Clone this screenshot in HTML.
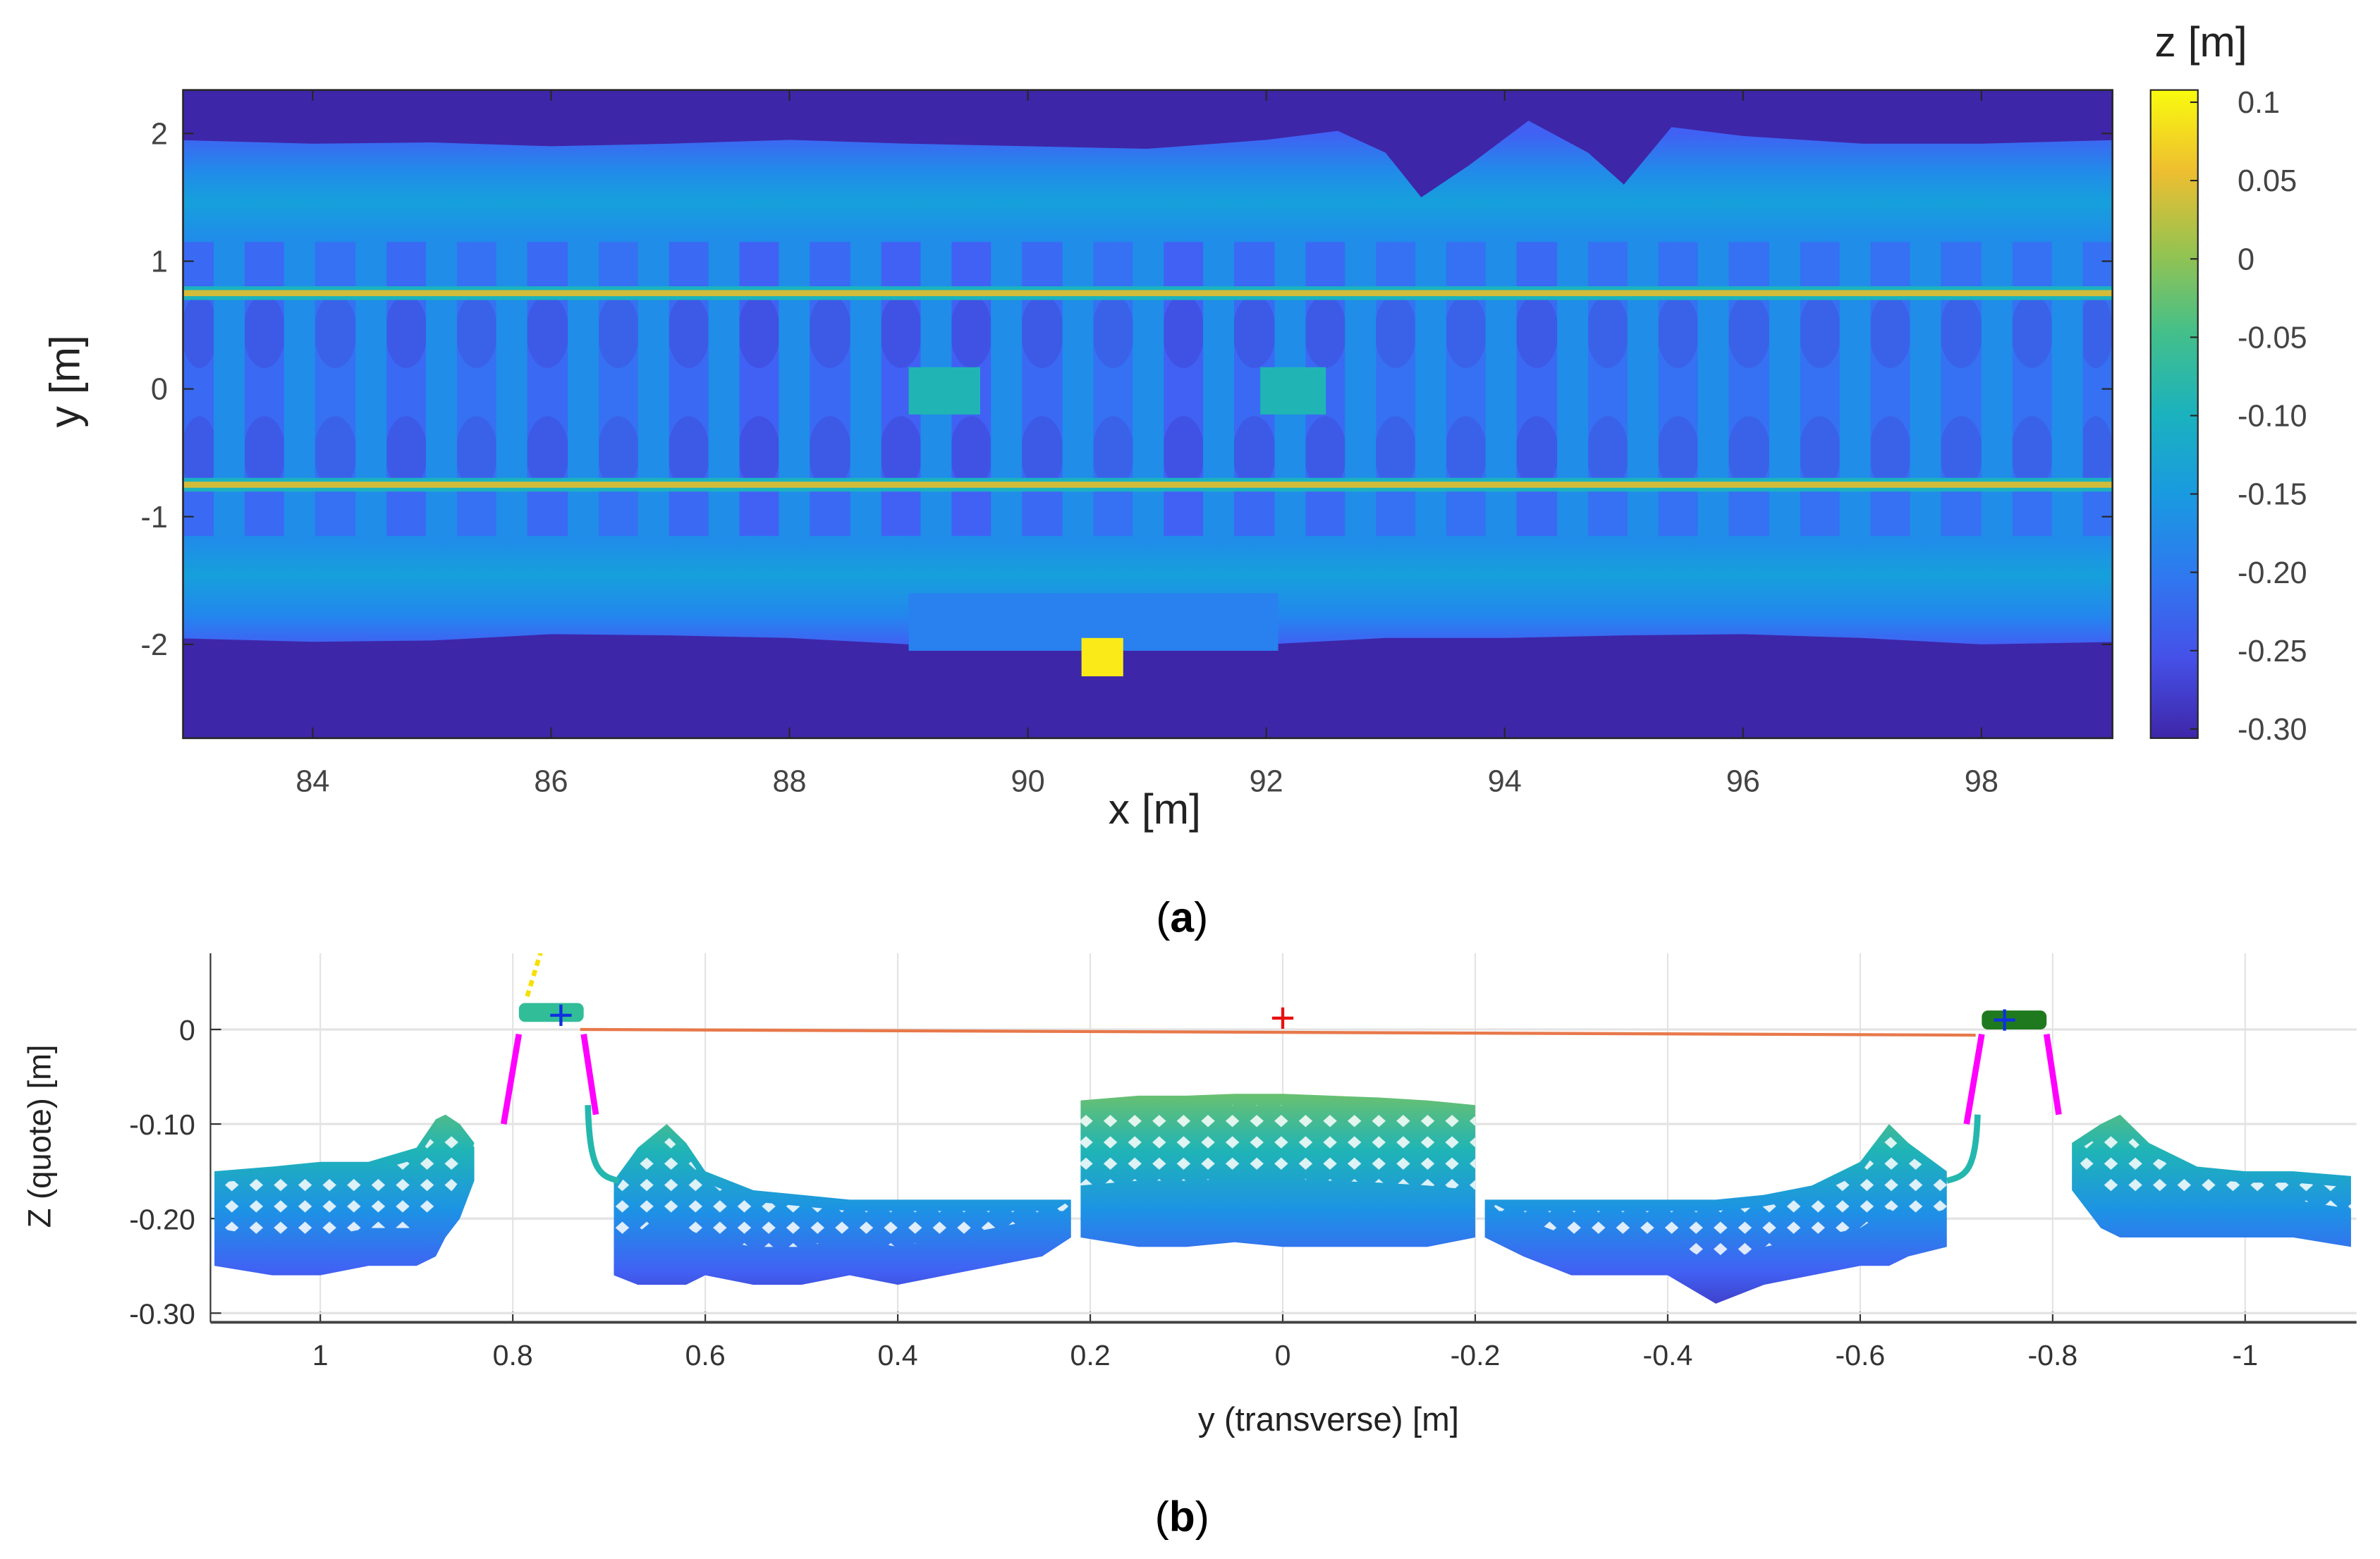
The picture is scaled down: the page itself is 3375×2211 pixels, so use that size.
<!DOCTYPE html>
<html><head><meta charset="utf-8"><style>
html,body{margin:0;padding:0;background:#fff;}
svg{display:block;}
text{font-family:"Liberation Sans",sans-serif;}
</style></head><body>
<svg id="fig" width="3375" height="2211" viewBox="0 0 1560.4 1022.2" xmlns="http://www.w3.org/2000/svg">
<defs>
<pattern id="hatch" width="16" height="14" patternUnits="userSpaceOnUse">
<path d="M8 3 L12.5 7 L8 11 L3.5 7 Z" fill="#fff" opacity="0.85"/>
</pattern>
<clipPath id="clipA"><rect x="120" y="59" width="1265" height="425"/></clipPath>
<clipPath id="clipB"><rect x="138" y="625" width="1407" height="242"/></clipPath>
</defs>
<g id="gA"></g>
<g id="gB"></g>
</svg>
<script>
// ---------- data: panel (a) heatmap ----------
const xTicksA = [84,86,88,90,92,94,96,98];
const yTicksA = [2,1,0,-1,-2];
const cbTicks = [0.1,0.05,0,-0.05,-0.10,-0.15,-0.20,-0.25,-0.30];
const cbLabels = ["0.1","0.05","0","-0.05","-0.10","-0.15","-0.20","-0.25","-0.30"];
const sleeperX = [83.30,83.89,84.49,85.08,85.67,86.27,86.86,87.45,88.04,88.64,89.23,89.82,90.42,91.01,91.60,92.20,92.79,93.38,93.97,94.57,95.16,95.75,96.35,96.94,97.53,98.13,98.72];
const sleeperZ = -0.17;
const cribZ = [-0.22,-0.22,-0.21,-0.22,-0.21,-0.22,-0.21,-0.22,-0.23,-0.22,-0.23,-0.23,-0.22,-0.21,-0.23,-0.22,-0.22,-0.21,-0.21,-0.22,-0.21,-0.21,-0.21,-0.21,-0.21,-0.21,-0.21,-0.21];
const topEdgeX = [82.8,84,85,86,87,88,89,90,91,92,92.6,93.0,93.3,93.7,94.2,94.7,95.0,95.4,96,97,98,99.2];
const topEdgeY = [1.95,1.92,1.93,1.90,1.92,1.95,1.92,1.90,1.88,1.95,2.02,1.85,1.50,1.75,2.10,1.85,1.60,2.05,1.98,1.92,1.92,1.95];
const botEdgeX = [82.8,84,85,86,87,88,89,90,91,92,93,94,95,96,97,98,99.2];
const botEdgeY = [-1.95,-1.98,-1.97,-1.92,-1.93,-1.95,-2.0,-1.98,-1.98,-2.0,-1.95,-1.95,-1.93,-1.92,-1.95,-2.0,-1.98];
const railY = [0.75,-0.75];
const railZ = 0.03;
const blocks = [ // [x0,x1,y0,y1,z]
 [89.0,89.6,0.17,-0.2,-0.09],[91.95,92.5,0.17,-0.2,-0.09],
 [89.0,92.1,-1.6,-2.05,-0.19],[90.45,90.8,-1.95,-2.25,0.09]];

// ---------- data: panel (b) profile ----------
const xTicksB = [1,0.8,0.6,0.4,0.2,0,-0.2,-0.4,-0.6,-0.8,-1];
const xLabelsB = ["1","0.8","0.6","0.4","0.2","0","-0.2","-0.4","-0.6","-0.8","-1"];
const zTicksB = [0,-0.10,-0.20,-0.30];
const zLabelsB = ["0","-0.10","-0.20","-0.30"];
const seg1Y = [1.11,1.05,1.0,0.95,0.9,0.88,0.87,0.855,0.84];
const seg1Top = [-0.15,-0.145,-0.14,-0.14,-0.125,-0.095,-0.09,-0.10,-0.12];
const seg1Bot = [-0.25,-0.26,-0.26,-0.25,-0.25,-0.24,-0.22,-0.20,-0.16];
const seg2Y = [0.695,0.67,0.64,0.62,0.6,0.55,0.5,0.45,0.4,0.35,0.3,0.25,0.22];
const seg2Top = [-0.16,-0.125,-0.10,-0.12,-0.15,-0.17,-0.175,-0.18,-0.18,-0.18,-0.18,-0.18,-0.18];
const seg2Bot = [-0.26,-0.27,-0.27,-0.27,-0.26,-0.27,-0.27,-0.26,-0.27,-0.26,-0.25,-0.24,-0.22];
const seg3Y = [0.21,0.15,0.1,0.05,0,-0.05,-0.1,-0.15,-0.2];
const seg3Top = [-0.075,-0.07,-0.07,-0.068,-0.068,-0.07,-0.072,-0.075,-0.08];
const seg3Bot = [-0.22,-0.23,-0.23,-0.225,-0.23,-0.23,-0.23,-0.23,-0.22];
const seg4Y = [-0.21,-0.25,-0.3,-0.35,-0.4,-0.45,-0.5,-0.55,-0.6,-0.63,-0.65,-0.69];
const seg4Top = [-0.18,-0.18,-0.18,-0.18,-0.18,-0.18,-0.175,-0.165,-0.14,-0.10,-0.12,-0.15];
const seg4Bot = [-0.22,-0.24,-0.26,-0.26,-0.26,-0.29,-0.27,-0.26,-0.25,-0.25,-0.24,-0.23];
const seg5Y = [-0.82,-0.85,-0.87,-0.9,-0.95,-1.0,-1.05,-1.11];
const seg5Top = [-0.12,-0.10,-0.09,-0.12,-0.145,-0.15,-0.15,-0.155];
const seg5Bot = [-0.17,-0.21,-0.22,-0.22,-0.22,-0.22,-0.22,-0.23];
const railL = [0.80,0.72]; const railR = [-0.72,-0.80];
const railHeadZ = [0.02,0.012];
const lineY = [0.73,-0.72]; const lineZ = [0.0,-0.006];
const centerMark = [0,0.012];
const railMarks = [[0.75,0.015],[-0.75,0.01]];

// ---------- helpers ----------
const NS="http://www.w3.org/2000/svg";
function mk(tag,attrs,parent){const e=document.createElementNS(NS,tag);for(const k in attrs)e.setAttribute(k,attrs[k]);parent.appendChild(e);return e;}
const anchors=[[0,62,38,168],[0.15,70,90,245],[0.3,35,135,238],[0.45,15,172,210],[0.6,50,190,150],[0.75,150,195,80],[0.85,230,185,50],[0.92,252,200,45],[1,249,251,14]];
function parula(t){t=Math.max(0,Math.min(1,t));for(let i=1;i<anchors.length;i++){if(t<=anchors[i][0]){const a=anchors[i-1],b=anchors[i],f=(t-a[0])/(b[0]-a[0]);return `rgb(${Math.round(a[1]+f*(b[1]-a[1]))},${Math.round(a[2]+f*(b[2]-a[2]))},${Math.round(a[3]+f*(b[3]-a[3]))})`;}}return "rgb(249,251,14)";}
const cA=z=>parula((z+0.30)/0.40);
const cB=z=>parula((z+0.32)/0.37);

// ---------- panel (a) ----------
const gA=document.getElementById('gA');
const XA=v=>205+(v-84)*78.15, YA=v=>255-v*83.75;
const plot=mk('g',{'clip-path':'url(#clipA)'},gA);


mk('rect',{x:120,y:59,width:1265,height:425,fill:cA(-0.30)},plot);
const defs=document.querySelector('defs');
function vgrad(id,stops,y0,y1){const g=mk('linearGradient',{id:id,x1:0,y1:y0,x2:0,y2:y1,gradientUnits:'userSpaceOnUse'},defs);stops.forEach(s=>mk('stop',{offset:s[0],'stop-color':s[1]},g));}
vgrad('gTop',[[0,cA(-0.23)],[0.35,cA(-0.17)],[0.6,cA(-0.14)],[1,cA(-0.18)]],YA(2.0),YA(1.1));
vgrad('gBot',[[0,cA(-0.18)],[0.4,cA(-0.14)],[0.75,cA(-0.18)],[1,cA(-0.23)]],YA(-1.1),YA(-2.0));
let pts=topEdgeX.map((x,i)=>XA(x)+','+YA(topEdgeY[i])).join(' ');
pts+=` ${XA(99.2)},${YA(1.1)} ${XA(82.8)},${YA(1.1)}`;
const up=mk('polygon',{points:pts,fill:'url(#gTop)'},plot);


pts=botEdgeX.map((x,i)=>XA(x)+','+YA(botEdgeY[i])).join(' ');
pts+=` ${XA(99.2)},${YA(-1.1)} ${XA(82.8)},${YA(-1.1)}`;
const lo=mk('polygon',{points:pts,fill:'url(#gBot)'},plot);


for(let i=0;i<cribZ.length;i++){
 const x0=i===0?82.8:sleeperX[i-1], x1=i<sleeperX.length?sleeperX[i]:99.2;
 const r=mk('rect',{x:XA(x0),y:YA(1.15),width:XA(x1)-XA(x0),height:YA(-1.15)-YA(1.15),fill:cA(cribZ[i])},plot);
 
 
 [0.45,-0.5].forEach(yy=>{
  const e=mk('ellipse',{cx:(XA(x0)+XA(x1))/2,cy:YA(yy),rx:(XA(x1)-XA(x0))/2*0.6,ry:24,fill:cA(cribZ[i]-0.05),opacity:0.35},plot);
  
  
 });
}
sleeperX.forEach(x=>{
 const r=mk('rect',{x:XA(x-0.13),y:YA(1.18),width:XA(0.26)-XA(0),height:YA(-1.18)-YA(1.18),fill:cA(sleeperZ)},plot);
 
 
});
blocks.forEach(b=>{
 const r=mk('rect',{x:XA(b[0]),y:YA(b[2]),width:XA(b[1])-XA(b[0]),height:YA(b[3])-YA(b[2]),fill:cA(b[4])},plot);
 
 
});
railY.forEach(y=>{
 const r1=mk('rect',{x:120,y:YA(y)-4.5,width:1265,height:9,fill:cA(-0.10)},plot);
 
 
 const r2=mk('rect',{x:120,y:YA(y)-2,width:1265,height:4,fill:cA(railZ)},plot);
 
 
});
mk('rect',{x:120,y:59,width:1265,height:425,fill:'none',stroke:'#262626','stroke-width':1.2},gA);
xTicksA.forEach(v=>{
 mk('line',{x1:XA(v),x2:XA(v),y1:484,y2:477,stroke:'#262626'},gA);
 mk('line',{x1:XA(v),x2:XA(v),y1:59,y2:66,stroke:'#262626'},gA);
 const t=mk('text',{x:XA(v),y:519,'font-size':20,fill:'#444','text-anchor':'middle'},gA);t.textContent=v;
 
 
});
yTicksA.forEach(v=>{
 mk('line',{x1:120,x2:127,y1:YA(v),y2:YA(v),stroke:'#262626'},gA);
 mk('line',{x1:1385,x2:1378,y1:YA(v),y2:YA(v),stroke:'#262626'},gA);
 const t=mk('text',{x:110,y:YA(v)+7,'font-size':20,fill:'#444','text-anchor':'end'},gA);t.textContent=v;
 
 
});
let t=mk('text',{x:757,y:540,'font-size':28,fill:'#222','text-anchor':'middle'},gA);t.textContent='x [m]';


t=mk('text',{x:0,y:0,'font-size':28,fill:'#222','text-anchor':'middle',transform:'translate(52,250) rotate(-90)'},gA);t.textContent='y [m]';


vgrad('gCb',[0,0.125,0.25,0.375,0.5,0.625,0.75,0.875,1].map(f=>[f,parula(1-f)]),59,484);
const cb=mk('rect',{x:1410,y:59,width:31,height:425,fill:'url(#gCb)',stroke:'#262626','stroke-width':1},gA);


const CB=v=>67+(0.1-v)*(478-67)/0.4;
cbTicks.forEach((v,i)=>{
 mk('line',{x1:1441,x2:1436,y1:CB(v),y2:CB(v),stroke:'#262626'},gA);
 const tt=mk('text',{x:1467,y:CB(v)+7,'font-size':20,fill:'#444'},gA);tt.textContent=cbLabels[i];
 
 
});
t=mk('text',{x:1443,y:37,'font-size':28,fill:'#222','text-anchor':'middle'},gA);t.textContent='z [m]';


t=mk('text',{x:775,y:611,'font-size':28,fill:'#000','text-anchor':'middle','font-family':'Liberation Serif, serif'},gA);
t.innerHTML='(<tspan font-weight="bold">a</tspan>)';



// ---------- panel (b) ----------
const gB=document.getElementById('gB');
const XB=v=>841-v*631, ZB=v=>675-v*620;
xTicksB.forEach((v,i)=>{
 mk('line',{x1:XB(v),x2:XB(v),y1:625,y2:867,stroke:'#e3e3e3','stroke-width':1},gB);
 mk('line',{x1:XB(v),x2:XB(v),y1:867,y2:860,stroke:'#333'},gB);
 const tt=mk('text',{x:XB(v),y:895,'font-size':19,fill:'#333','text-anchor':'middle'},gB);tt.textContent=xLabelsB[i];
 
 
});
zTicksB.forEach((v,i)=>{
 mk('line',{x1:138,x2:1545,y1:ZB(v),y2:ZB(v),stroke:'#e3e3e3','stroke-width':1.5},gB);
 mk('line',{x1:138,x2:145,y1:ZB(v),y2:ZB(v),stroke:'#333'},gB);
 const tt=mk('text',{x:128,y:ZB(v)+7,'font-size':19,fill:'#333','text-anchor':'end'},gB);tt.textContent=zLabelsB[i];
 
 
});
mk('line',{x1:138,x2:138,y1:625,y2:867,stroke:'#333','stroke-width':1},gB);
mk('line',{x1:138,x2:1545,y1:867,y2:867,stroke:'#444','stroke-width':1.8},gB);
const pb=mk('g',{'clip-path':'url(#clipB)'},gB);


vgrad('gProf',[0,0.2,0.4,0.6,0.8,1].map(f=>{const z=0.0-f*0.32;return [f,cB(z)];}),ZB(0),ZB(-0.32));
function seg(ys,tops,bots,name){
 let p=ys.map((y,i)=>XB(y)+','+ZB(tops[i])).join(' ')+' '+ys.slice().reverse().map((y,i)=>XB(y)+','+ZB(bots[bots.length-1-i])).join(' ');
 const s=mk('polygon',{points:p,fill:'url(#gProf)'},pb);
 
 
 let p2=ys.map((y,i)=>XB(y)+','+ZB(tops[i]-0.012)).join(' ')+' '+ys.slice().reverse().map((y,i)=>XB(y)+','+ZB(Math.max(bots[bots.length-1-i]+0.04,tops[tops.length-1-i]-0.09))).join(' ');
 const h=mk('polygon',{points:p2,fill:'url(#hatch)'},pb);
 
 
}
seg(seg1Y,seg1Top,seg1Bot,'left-shoulder');
seg(seg2Y,seg2Top,seg2Bot,'left-crib');
seg(seg3Y,seg3Top,seg3Bot,'sleeper-profile');
seg(seg4Y,seg4Top,seg4Bot,'right-crib');
seg(seg5Y,seg5Top,seg5Bot,'right-shoulder');
function rail(r,headZ,headColor,name){
 const g=mk('g',{},pb);
 
 
 mk('rect',{x:XB(r[0])+4,y:ZB(headZ+0.008),width:XB(r[1])-XB(r[0])-8,height:ZB(headZ-0.012)-ZB(headZ+0.008),fill:headColor,rx:4},g);
 mk('path',{d:`M${XB(r[0])-6},${ZB(-0.1)} L${XB(r[0])+4},${ZB(-0.005)}`,stroke:'#f0f',"stroke-width":4,fill:'none'},g);
 mk('path',{d:`M${XB(r[1])-4},${ZB(-0.005)} L${XB(r[1])+4},${ZB(-0.09)}`,stroke:'#f0f',"stroke-width":4,fill:'none'},g);
}
rail(railL,railHeadZ[0],cB(-0.1),'left-rail');
rail(railR,railHeadZ[1],'#1f7a1f','right-rail');
mk('path',{d:`M${XB(0.722)},${ZB(-0.08)} C${XB(0.72)},${ZB(-0.15)} ${XB(0.71)},${ZB(-0.155)} ${XB(0.69)},${ZB(-0.16)}`,stroke:cB(-0.12),'stroke-width':4,fill:'none'},pb);
mk('path',{d:`M${XB(-0.722)},${ZB(-0.09)} C${XB(-0.72)},${ZB(-0.15)} ${XB(-0.71)},${ZB(-0.155)} ${XB(-0.69)},${ZB(-0.16)}`,stroke:cB(-0.12),'stroke-width':4,fill:'none'},pb);
mk('path',{d:`M${XB(0.785)},${ZB(0.035)} L${XB(0.77)},${ZB(0.085)}`,stroke:'#f5e000','stroke-width':3,'stroke-dasharray':'4 3',fill:'none'},pb);
const ln=mk('line',{x1:XB(lineY[0]),y1:ZB(lineZ[0]),x2:XB(lineY[1]),y2:ZB(lineZ[1]),stroke:'#e8784a','stroke-width':2},pb);


function plus(y,z,col,name){const cx=XB(y),cy=ZB(z);const g=mk('g',{stroke:col,'stroke-width':2},pb);
 
 
 mk('line',{x1:cx-7,x2:cx+7,y1:cy,y2:cy},g);mk('line',{x1:cx,x2:cx,y1:cy-7,y2:cy+7},g);}
plus(centerMark[0],centerMark[1],'#e81010','center-marker');
railMarks.forEach(m=>plus(m[0],m[1],'#1030e0','rail-marker'));
t=mk('text',{x:0,y:0,'font-size':21,fill:'#222','text-anchor':'middle',transform:'translate(33,745) rotate(-90)'},gB);t.textContent='Z (quote) [m]';


t=mk('text',{x:871,y:938,'font-size':22,fill:'#222','text-anchor':'middle'},gB);t.textContent='y (transverse) [m]';


t=mk('text',{x:775,y:1004,'font-size':28,fill:'#000','text-anchor':'middle','font-family':'Liberation Serif, serif'},gB);
t.innerHTML='(<tspan font-weight="bold">b</tspan>)';


</script>
</body></html>
